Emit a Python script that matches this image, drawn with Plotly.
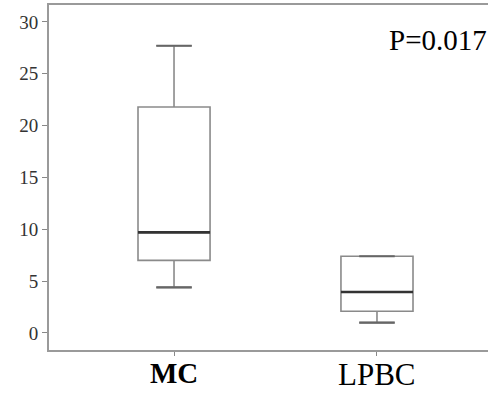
import plotly.graph_objects as go

categories = ["MC", "LPBC"]
tick_text = ["<b>MC</b>", "LPBC"]
lower_whisker = [4.4, 1.0]
q1 = [7.0, 2.1]
median = [9.7, 3.95]
q3 = [21.8, 7.4]
upper_whisker = [27.7, 7.4]
y_ticks = [0, 5, 10, 15, 20, 25, 30]
p_text = "P=0.017"

box_w = 0.355
cap_w = 0.175
label_sizes = [29, 31]

fig = go.Figure()
for i, name in enumerate(categories):
    fig.add_trace(go.Box(
        x=[i], q1=[q1[i]], median=[median[i]], q3=[q3[i]],
        lowerfence=[lower_whisker[i]], upperfence=[upper_whisker[i]],
        width=box_w, whiskerwidth=0.49, fillcolor="white",
        line=dict(color="#8a8a8a", width=1.6), boxpoints=False,
        showlegend=False, hoverinfo="skip", name=name,
    ))
    # darker median
    fig.add_trace(go.Scatter(
        x=[i - box_w / 2, i + box_w / 2], y=[median[i], median[i]],
        mode="lines", line=dict(color="#333333", width=2.6),
        showlegend=False, hoverinfo="skip",
    ))
    # caps
    for v in (lower_whisker[i], upper_whisker[i]):
        fig.add_trace(go.Scatter(
            x=[i - cap_w / 2, i + cap_w / 2], y=[v, v],
            mode="lines", line=dict(color="#666666", width=2.2),
            showlegend=False, hoverinfo="skip",
        ))
    # category label
    fig.add_annotation(
        text=tick_text[i], x=i, xref="x", y=0, yref="paper",
        xanchor="center", yanchor="top", yshift=-5, showarrow=False,
        font=dict(family="Liberation Serif", size=label_sizes[i], color="black"),
    )

fig.add_annotation(
    text=p_text, xref="paper", yref="paper", x=0.77, y=0.898,
    xanchor="left", yanchor="middle", showarrow=False,
    font=dict(family="Liberation Serif", size=29, color="black"),
)

fig.update_layout(
    width=488, height=395,
    margin=dict(l=49, r=0, t=5, b=45),
    plot_bgcolor="white", paper_bgcolor="white",
    font=dict(family="Liberation Serif", color="#222"),
)
fig.update_xaxes(
    range=[-0.616, 1.547], tickvals=[0, 1], showticklabels=False,
    showgrid=False, zeroline=False, showline=True, linecolor="#9a9a9a",
    linewidth=2, mirror=True, ticks="outside", ticklen=4, tickcolor="#888",
)
fig.update_yaxes(
    range=[-1.64, 31.63], tickvals=y_ticks,
    showgrid=False, zeroline=False, showline=True, linecolor="#9a9a9a",
    linewidth=2, ticks="outside", ticklen=5, tickcolor="#888",
    tickfont=dict(family="Liberation Serif", size=19, color="#333"),
)

fig.write_html(
    "out.html",
    config={"displayModeBar": False},
    post_script="document.body.style.margin='0';document.body.style.overflow='hidden';",
)
